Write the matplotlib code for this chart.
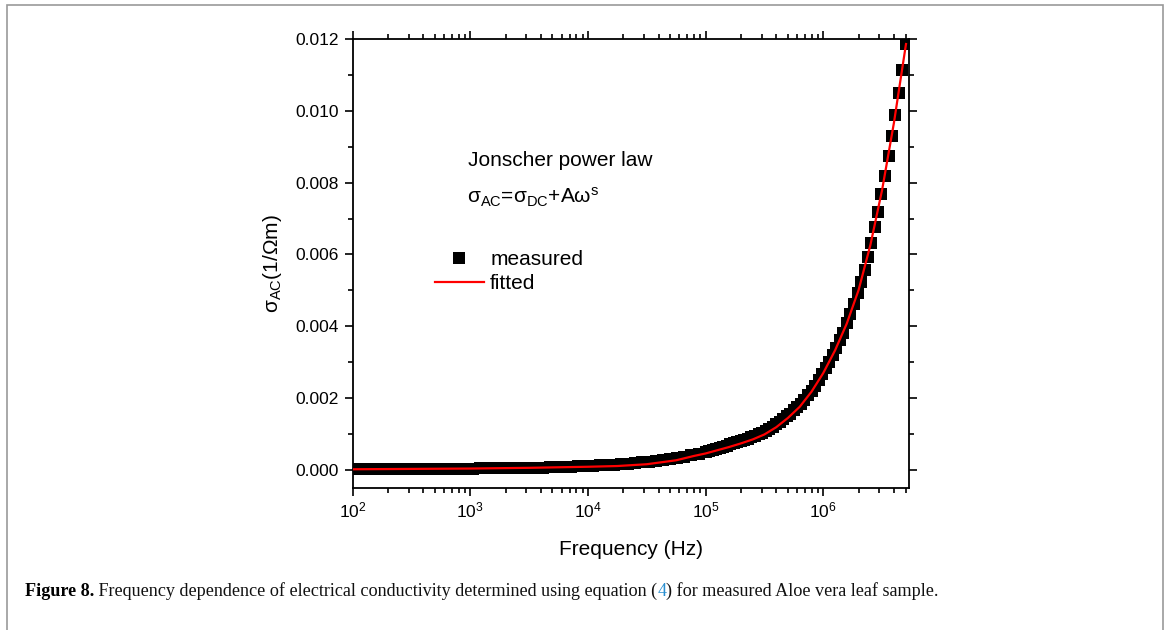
import matplotlib
matplotlib.use("Agg")
import matplotlib.pyplot as plt
from matplotlib.ticker import LogLocator, MultipleLocator, FormatStrFormatter, NullFormatter
from matplotlib.patches import Rectangle

plt.rcParams['font.family'] = ['Liberation Sans', 'DejaVu Sans']
plt.rcParams['mathtext.fontset'] = 'custom'
plt.rcParams['mathtext.rm'] = 'Liberation Sans'
plt.rcParams['mathtext.it'] = 'Liberation Sans:italic'
plt.rcParams['mathtext.bf'] = 'Liberation Sans:bold'

# measured conductivity (Hz, 1/Ohm m)
freq_measured = [
    100, 114.8, 131.8, 151.4, 173.8, 199.5, 229.1, 263.0, 302.0, 346.7,
    398.1, 457.1, 524.8, 602.6, 691.8, 794.3, 912.0, 1047, 1202, 1380,
    1585, 1820, 2089, 2399, 2754, 3162, 3631, 4169, 4786, 5495,
    6310, 7244, 8318, 9550, 10965, 12589, 14454, 16596, 19055, 21878,
    25119, 28840, 33113, 38019, 43652, 50119, 57544, 66069, 75858, 87096,
    100000, 107152, 114815, 123027, 131826, 141254, 151356, 162181, 173780, 186209,
    199526, 213796, 229087, 245471, 263027, 281838, 301995, 323594, 346737, 371535,
    398107, 426580, 457088, 489779, 524807, 562341, 602560, 645654, 691831, 741310,
    794328, 851138, 912011, 977237, 1047129, 1122018, 1202264, 1288250, 1380384,
    1.462e6, 1.581e6, 1.694e6, 1.824e6, 1.959e6, 2.089e6, 2.249e6, 2.382e6, 2.541e6,
    2.735e6, 2.897e6, 3.112e6, 3.342e6, 3.597e6, 3.811e6, 4.093e6, 4.375e6, 4.667e6,
    5.047e6,
]
sigma_measured = [
    0.000020, 0.000021, 0.000022, 0.000024, 0.000025, 0.000026, 0.000027, 0.000028, 0.000029, 0.000030,
    0.000031, 0.000032, 0.000034, 0.000035, 0.000036, 0.000038, 0.000039, 0.000041, 0.000043, 0.000045,
    0.000047, 0.000049, 0.000052, 0.000055, 0.000058, 0.000061, 0.000065, 0.000069, 0.000074, 0.000080,
    0.000086, 0.000092, 0.000099, 0.000107, 0.000116, 0.000125, 0.000135, 0.000147, 0.000160, 0.000175,
    0.000191, 0.000209, 0.000229, 0.000252, 0.000277, 0.000305, 0.000336, 0.000370, 0.000408, 0.000450,
    0.000500, 0.00053, 0.00056, 0.00059, 0.00062, 0.00065, 0.00068, 0.00071, 0.00074, 0.00077,
    0.00080, 0.00083, 0.00087, 0.00091, 0.00095, 0.00099, 0.00104, 0.00109, 0.00115, 0.00121,
    0.00127, 0.00134, 0.00141, 0.00149, 0.00157, 0.00166, 0.00175, 0.00185, 0.00196, 0.00208,
    0.00221, 0.00235, 0.00250, 0.00266, 0.00283, 0.00301, 0.00320, 0.00340, 0.00361,
    0.00382, 0.00408, 0.00434, 0.00462, 0.00492, 0.00524, 0.00557, 0.00594, 0.00633,
    0.00676, 0.00719, 0.00768, 0.00819, 0.00874, 0.00930, 0.00988, 0.01050, 0.01114,
    0.01186,
]

# Jonscher fit
freq_fit = [100, 316, 1000, 3162, 10000, 17783, 31623, 56234, 79433, 100000,
            125893, 158489, 199526, 251189, 316228, 398107, 501187, 630957, 794328,
            1000000, 1258925, 1584893, 1995262, 2511886, 3162278, 3981072, 5011872, 5.047e6]
sigma_fit = [0.00002, 0.00003, 0.00004, 0.00006, 0.00009, 0.00011, 0.00016, 0.00027, 0.00039, 0.00046,
             0.00055, 0.00064, 0.00074, 0.00085, 0.00099, 0.00119, 0.00145, 0.00176, 0.00218,
             0.00270, 0.00333, 0.00408, 0.00501, 0.00626, 0.00780, 0.00966, 0.01180, 0.01186]

W, H = 1170, 630
fig = plt.figure(figsize=(11.7, 6.3), dpi=100)
ax = fig.add_axes([352.5 / W, 1 - 488.3 / H, (909 - 352.5) / W, (488.3 - 39) / H])

ax.plot(freq_measured, sigma_measured, 's', color='black', markersize=8.2,
        markeredgewidth=0, label='measured', zorder=2)
ax.plot(freq_fit, sigma_fit, '-', color='#ff0000', linewidth=1.6, label='fitted', zorder=3)

ax.set_xscale('log')
ax.set_xlim(100, 5.35e6)
ax.set_ylim(-0.00051, 0.012)

ax.xaxis.set_major_locator(LogLocator(base=10, numticks=20))
ax.xaxis.set_minor_locator(LogLocator(base=10, subs=range(2, 10), numticks=50))
ax.xaxis.set_minor_formatter(NullFormatter())
ax.yaxis.set_major_locator(MultipleLocator(0.002))
ax.yaxis.set_minor_locator(MultipleLocator(0.001))
ax.yaxis.set_major_formatter(FormatStrFormatter('%.3f'))

for s in ax.spines.values():
    s.set_linewidth(1.3)
ax.tick_params(which='both', direction='out', top=True, right=True, width=1.2, labelsize=12.5)
ax.tick_params(which='major', length=6, pad=4)
ax.tick_params(which='minor', length=3.5)
ax.tick_params(axis='x', which='major', pad=3)

ax.set_xlabel('Frequency (Hz)', fontsize=15, labelpad=14)
ax.set_ylabel(r'$\mathrm{σ_{AC}(1/Ωm)}$', fontsize=15, labelpad=8)

fig.text(468 / W, 1 - 160 / H, 'Jonscher power law', fontsize=15, va='center', ha='left')
fig.text(467 / W, 1 - 197 / H, r'$\mathrm{σ_{AC}}$=$\mathrm{σ_{DC}}$+A$\mathrm{ω^{s}}$',
         fontsize=15, va='center', ha='left')

ax.legend(loc='upper left', bbox_to_anchor=(435 / W, 1 - 250 / H), bbox_transform=fig.transFigure,
          frameon=False, fontsize=15, numpoints=1, handlelength=2.35, handletextpad=0.3,
          labelspacing=0.25, borderpad=0, borderaxespad=0, markerscale=1.0)

# page frame
fig.add_artist(Rectangle((7 / W, -0.05), (1163 - 7) / W, 1 - 5 / H + 0.05,
                         transform=fig.transFigure, fill=False, edgecolor='#999999', linewidth=1.2))

# caption
cap_size = 13.1
t1 = fig.text(25 / W, 1 - 596 / H, 'Figure 8.', fontsize=cap_size, fontweight='bold',
              family='Liberation Serif', va='baseline', ha='left')
parts = [
    (' Frequency dependence of electrical conductivity determined using equation (', '#111111'),
    ('4', '#2a8fd0'),
    (') for measured Aloe vera leaf sample.', '#111111'),
]
prev = t1
for txt, col in parts:
    prev = ax.annotate(txt, xy=(1, 0), xycoords=prev, xytext=(0, 0), textcoords='offset points',
                       fontsize=cap_size, family='Liberation Serif', color=col,
                       va='bottom', ha='left', annotation_clip=False)

fig.savefig('out.png', dpi=100)
